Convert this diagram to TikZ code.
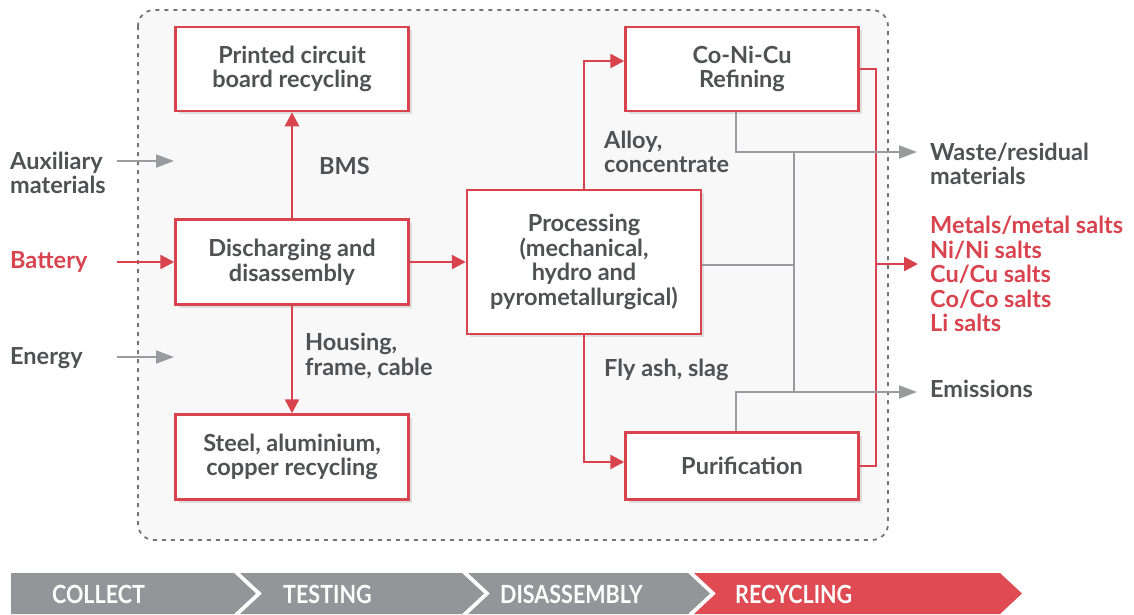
\documentclass[tikz,border=0pt]{standalone}
\usepackage{fontspec}
\setmainfont{Lato}
\usetikzlibrary{arrows.meta,shadows,calc}
\definecolor{myred}{HTML}{D9434E}
\definecolor{mygray}{HTML}{9A9B9E}
\definecolor{txt}{HTML}{505153}
\definecolor{barred}{HTML}{DF4A53}
\definecolor{bargray}{HTML}{939598}
\definecolor{panel}{HTML}{F8F8F8}
\newcommand{\lblfont}{\fontsize{23.5}{24.5}\selectfont\bfseries}
\newcommand{\barfont}{\fontsize{25}{25}\selectfont\bfseries}
\begin{document}
\begin{tikzpicture}[x=1pt,y=-1pt,
  procbox/.style={draw=myred, line width=2.5pt, fill=white, minimum width=233pt,
    align=center, font=\lblfont, text=txt, inner sep=0pt,
    drop shadow={shadow xshift=3pt, shadow yshift=-3pt, opacity=0.10, fill=black}},
  lbl/.style={font=\lblfont, text=txt, align=left, anchor=west, inner sep=0pt},
  redlbl/.style={lbl, text=myred},
  redline/.style={draw=myred, line width=2.5pt},
  redarrow/.style={redline, -{Triangle[length=14pt,width=14pt]}},
  grayline/.style={draw=mygray, line width=2pt},
  grayarrow/.style={grayline, -{Triangle[length=18pt,width=13pt]}},
  bartext/.style={font=\barfont, text=white, anchor=west, inner sep=0pt}
]
\useasboundingbox (0,0) rectangle (1134,614);
% panel
\draw[dashed, dash pattern=on 4pt off 5pt, line width=1.8pt, draw=txt!80, fill=panel, rounded corners=16pt]
  (138,10) rectangle (888,540);

% boxes
\node[procbox, minimum height=84pt] (pcb) at (292,69) {Printed circuit\\board recycling};
\node[procbox, minimum height=85pt] (dis) at (292,262) {Discharging and\\disassembly};
\node[procbox, minimum height=85pt] (steel) at (292,457) {Steel, aluminium,\\copper recycling};
\node[procbox, minimum width=234pt, minimum height=144pt] (proc) at (584,262) {Processing\\(mechanical,\\hydro and\\pyrometallurgical)};
\node[procbox, minimum height=84pt] (coni) at (742,69) {Co-Ni-Cu\\Refining};
\node[procbox, minimum height=67pt] (pur) at (742,466) {Purification};

% left labels
\node[lbl] (aux) at (10,173) {Auxiliary\\materials};
\node[redlbl] (bat) at (10,262) {Battery};
\node[lbl] (energy) at (10,358) {Energy};
\coordinate (auxs) at (117,161);
\coordinate (auxe) at (174,161);
\coordinate (ens) at (117,357);
\coordinate (ene) at (174,357);
\coordinate (bats) at (117,262);
\draw[grayarrow] (auxs) -- (auxe);
\draw[grayarrow] (ens) -- (ene);
\draw[redarrow] (bats) -- (dis.west);

% red connectors
\draw[redarrow] (dis.north) -- (pcb.south);
\draw[redarrow] (dis.south) -- (steel.north);
\draw[redarrow] (dis.east) -- (proc.west);
\draw[redarrow] (proc.north) |- ([yshift=8pt]coni.west);
\draw[redarrow] (proc.south) |- ([yshift=4pt]pur.west);
\node[lbl] (bms) at (319,166) {BMS};
\node[lbl] (housing) at (305,356) {Housing,\\frame, cable};
\node[lbl] (alloy) at (604,152) {Alloy,\\concentrate};
\node[lbl] (fly) at (604,370) {Fly ash, slag};

% right red merge
\draw[redline] (coni.east) -- ++(16,0) coordinate (mtop) |- (pur.east);
\coordinate (mj) at (875,264);
\coordinate (mtip) at (918,264);
\draw[redarrow] (mj) -- (mtip);
\node[redlbl] (metals) at (930,274) {Metals/metal salts\\Ni/Ni salts\\Cu/Cu salts\\Co/Co salts\\Li salts};

% gray connectors
\coordinate (wtip) at (917,152);
\coordinate (etip) at (917,392);
\coordinate (vtop) at (794,152);
\coordinate (vbot) at (794,392);
\draw[grayarrow] ([xshift=-6pt]coni.south) |- (wtip);
\draw[grayarrow] ([xshift=-6pt]pur.north) |- (etip);
\draw[grayline] (vtop) -- (vbot);
\draw[grayline] ([yshift=-3pt]proc.east) -- ([yshift=-3pt]proc.east -| vtop);
\node[lbl] (waste) at (930,164) {Waste/residual\\materials};
\node[lbl] (emis) at (930,389) {Emissions};

% bottom process bar
\fill[bargray] (11,573) -- (234,573) -- (256,593.5) -- (234,614) -- (11,614) -- cycle;
\fill[bargray] (240,573) -- (462,573) -- (484,593.5) -- (462,614) -- (240,614) -- (262,593.5) -- cycle;
\fill[bargray] (468,573) -- (688,573) -- (710,593.5) -- (688,614) -- (468,614) -- (490,593.5) -- cycle;
\fill[barred] (694,573) -- (1000,573) -- (1022,593.5) -- (1000,614) -- (694,614) -- (716,593.5) -- cycle;
\node[bartext] (t1) at (52,594) {\scalebox{0.86}[1]{COLLECT}};
\node[bartext] (t2) at (283,594) {\scalebox{0.86}[1]{TESTING}};
\node[bartext] (t3) at (500,594) {\scalebox{0.86}[1]{DISASSEMBLY}};
\node[bartext] (t4) at (735,594) {\scalebox{0.86}[1]{RECYCLING}};
\end{tikzpicture}
\end{document}
